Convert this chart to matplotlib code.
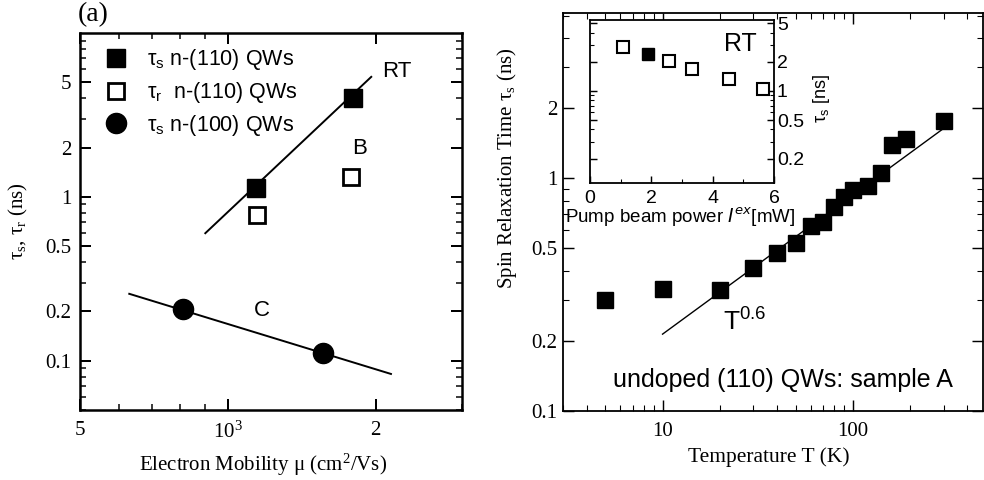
import numpy as np
import matplotlib
matplotlib.use("Agg")
import matplotlib.pyplot as plt
from matplotlib.ticker import FixedLocator, FixedFormatter, LogLocator, NullFormatter

SERIF = ["Liberation Serif", "DejaVu Serif"]
SANS = ["Liberation Sans", "DejaVu Sans"]
plt.rcParams["font.family"] = SERIF

# ---- panel (a): spin / recombination time vs electron mobility ----
mobility_s110 = [1140, 1800]
tau_s110 = [1.13, 4.0]
mobility_r110 = [1145, 1780]
tau_r110 = [0.78, 1.32]
mobility_s100 = [810, 1560]
tau_s100 = [0.207, 0.112]
rt_line_mu = [900, 1960]
rt_line_tau = [0.60, 5.4]
c_line_mu = [630, 2150]
c_line_tau = [0.256, 0.083]

# ---- panel (b): spin relaxation time vs temperature ----
temperature = [5, 10, 20, 30, 40, 50, 60, 70, 80, 90, 100, 120, 140, 160, 190, 300]
tau_s_temp = [0.30, 0.335, 0.33, 0.41, 0.48, 0.525, 0.625, 0.65, 0.75, 0.83,
              0.89, 0.93, 1.05, 1.39, 1.47, 1.76]
powerlaw_T = [10, 300]
powerlaw_tau = [0.214, 1.64]

# ---- inset: spin relaxation time vs pump power at RT ----
pump_open = [1.06, 2.58, 3.31, 4.54, 5.63]
tau_pump_open = [2.84, 2.04, 1.69, 1.33, 1.05]
pump_filled = [1.89]
tau_pump_filled = [2.41]

fig = plt.figure(figsize=(9.84, 4.8), dpi=100)


def style_log_axis(ax, lw, major_len=8, minor_len=4):
    for s in ax.spines.values():
        s.set_linewidth(lw)
    ax.tick_params(which="both", direction="in", top=True, right=True)
    ax.tick_params(which="major", length=major_len, width=lw * 0.8)
    ax.tick_params(which="minor", length=minor_len, width=lw * 0.6)


# ================= panel (a) =================
ax1 = fig.add_axes([0.0813, 0.1458, 0.3882, 0.7854])
ax1.set_xscale("log")
ax1.set_yscale("log")
ax1.set_xlim(500, 3000)
ax1.set_ylim(0.05, 10)
style_log_axis(ax1, 1.8)

ax1.plot(rt_line_mu, rt_line_tau, color="black", lw=1.4)
ax1.plot(c_line_mu, c_line_tau, color="black", lw=1.4)
ax1.plot(mobility_s110, tau_s110, ls="none", marker="s", ms=13.5, mfc="black",
         mec="black", label=r"$\mathregular{\tau_s}$ n-(110) QWs")
ax1.plot(mobility_r110, tau_r110, ls="none", marker="s", ms=12, mfc="white",
         mec="black", mew=2.0, label=r"$\mathregular{\tau_r}$  n-(110) QWs")
ax1.plot(mobility_s100, tau_s100, ls="none", marker="o", ms=14.5, mfc="black",
         mec="black", label=r"$\mathregular{\tau_s}$ n-(100) QWs")

ax1.xaxis.set_major_locator(FixedLocator([500, 1000, 2000]))
ax1.xaxis.set_major_formatter(FixedFormatter(["5", r"$\mathregular{10^3}$", "2"]))
ax1.xaxis.set_minor_locator(LogLocator(base=10, subs=np.arange(2, 10)))
ax1.xaxis.set_minor_formatter(NullFormatter())
ax1.yaxis.set_major_locator(FixedLocator([0.1, 0.2, 0.5, 1, 2, 5]))
ax1.yaxis.set_major_formatter(FixedFormatter(["0.1", "0.2", "0.5", "1", "2", "5"]))
ax1.yaxis.set_minor_locator(LogLocator(base=10, subs=np.arange(2, 10)))
ax1.yaxis.set_minor_formatter(NullFormatter())
ax1.tick_params(axis="x", which="major", labelsize=15, pad=8)
ax1.tick_params(axis="y", which="major", labelsize=15, pad=6)

ax1.set_xlabel(r"Electron Mobility μ $\mathregular{(cm^2/Vs)}$", fontsize=15)
ax1.xaxis.set_label_coords(0.48, -0.11)
ax1.set_ylabel(r"$\mathregular{\tau_s}$, $\mathregular{\tau_r}$ (ns)", fontsize=15)
ax1.yaxis.set_label_coords(-0.131, 0.50)

ax1.text(0.83, 0.897, "RT", transform=ax1.transAxes, fontsize=16,
         family=SANS, ha="center", va="center")
ax1.text(0.733, 0.695, "B", transform=ax1.transAxes, fontsize=16,
         family=SANS, ha="center", va="center")
ax1.text(0.476, 0.265, "C", transform=ax1.transAxes, fontsize=16,
         family=SANS, ha="center", va="center")

ax1.legend(loc="upper left", bbox_to_anchor=(0.066, 0.962), frameon=False,
           prop={"family": SANS, "size": 15.5}, handlelength=1.0,
           handletextpad=0.92, labelspacing=0.36, borderpad=0, borderaxespad=0,
           numpoints=1)

fig.text(0.095, 0.969, "(a)", fontsize=20, ha="center", va="center")

# ================= panel (b) =================
ax2 = fig.add_axes([0.5722, 0.14375, 0.4268, 0.8292])
ax2.set_xscale("log")
ax2.set_yscale("log")
ax2.set_xlim(3, 483)
ax2.set_ylim(0.1, 5.14)
style_log_axis(ax2, 1.3)

ax2.plot(powerlaw_T, powerlaw_tau, color="black", lw=1.0)
ax2.plot(temperature, tau_s_temp, ls="none", marker="s", ms=11, mfc="black",
         mec="black")

ax2.xaxis.set_major_locator(FixedLocator([10, 100]))
ax2.xaxis.set_major_formatter(FixedFormatter(["10", "100"]))
ax2.xaxis.set_minor_locator(LogLocator(base=10, subs=np.arange(2, 10)))
ax2.xaxis.set_minor_formatter(NullFormatter())
ax2.yaxis.set_major_locator(FixedLocator([0.1, 0.2, 0.5, 1, 2]))
ax2.yaxis.set_major_formatter(FixedFormatter(["0.1", "0.2", "0.5", "1", "2"]))
ax2.yaxis.set_minor_locator(LogLocator(base=10, subs=np.arange(2, 10)))
ax2.yaxis.set_minor_formatter(NullFormatter())
ax2.tick_params(axis="x", which="major", labelsize=15, pad=8)
ax2.tick_params(axis="y", which="major", labelsize=15, pad=4)

ax2.set_xlabel("Temperature T (K)", fontsize=15.5)
ax2.xaxis.set_label_coords(0.49, -0.092)
ax2.set_ylabel(r"Spin Relaxation Time $\mathregular{\tau_s}$ (ns)", fontsize=15)
ax2.yaxis.set_label_coords(-0.105, 0.61)

ax2.text(0.381, 0.2035, r"T$^{\mathregular{0.6}}$", transform=ax2.transAxes,
         fontsize=19, family=SANS, ha="left", va="baseline")
ax2.text(0.119, 0.06, "undoped (110) QWs: sample A", transform=ax2.transAxes,
         fontsize=18, family=SANS, ha="left", va="baseline")

# ================= inset =================
ax3 = fig.add_axes([0.5996, 0.6188, 0.187, 0.3396])
ax3.set_yscale("log")
ax3.set_xlim(0, 6)
ax3.set_ylim(0.112, 5.4)
style_log_axis(ax3, 1.3, major_len=5, minor_len=3)
ax3.tick_params(which="both", top=False)

ax3.plot(pump_open, tau_pump_open, ls="none", marker="s", ms=8.5, mfc="white",
         mec="black", mew=1.5)
ax3.plot(pump_filled, tau_pump_filled, ls="none", marker="s", ms=8.5,
         mfc="black", mec="black")

ax3.xaxis.set_major_locator(FixedLocator([0, 2, 4, 6]))
ax3.xaxis.set_minor_locator(FixedLocator([1, 3, 5]))
ax3.yaxis.set_major_locator(FixedLocator([0.2, 0.5, 1, 2, 5]))
ax3.yaxis.set_major_formatter(FixedFormatter(["0.2", "0.5", "1", "2", "5"]))
ax3.yaxis.set_minor_locator(LogLocator(base=10, subs=np.arange(2, 10)))
ax3.yaxis.set_minor_formatter(NullFormatter())
ax3.yaxis.tick_right()
ax3.tick_params(which="both", left=True, right=True, direction="in")
ax3.tick_params(axis="y", labelleft=False, labelright=True)
for lab in ax3.get_xticklabels() + ax3.get_yticklabels():
    lab.set_family(SANS)
ax3.tick_params(axis="x", which="major", labelsize=14, pad=5)
ax3.tick_params(axis="y", which="major", labelsize=14, pad=2)

ax3.set_xlabel(r"Pump beam power $\mathit{I}^{\mathit{ex}}$[mW]", fontsize=13.5,
               family=SANS)
ax3.xaxis.set_label_coords(0.49, -0.14)
ax3.yaxis.set_label_position("right")
ax3.set_ylabel(r"$\mathregular{\tau_s}$ [ns]", fontsize=13, family=SANS,
               rotation=90)
ax3.yaxis.set_label_coords(1.2, 0.52)
ax3.text(0.815, 0.85, "RT", transform=ax3.transAxes, fontsize=18,
         family=SANS, ha="center", va="center")

fig.savefig("out.png", dpi=100)
